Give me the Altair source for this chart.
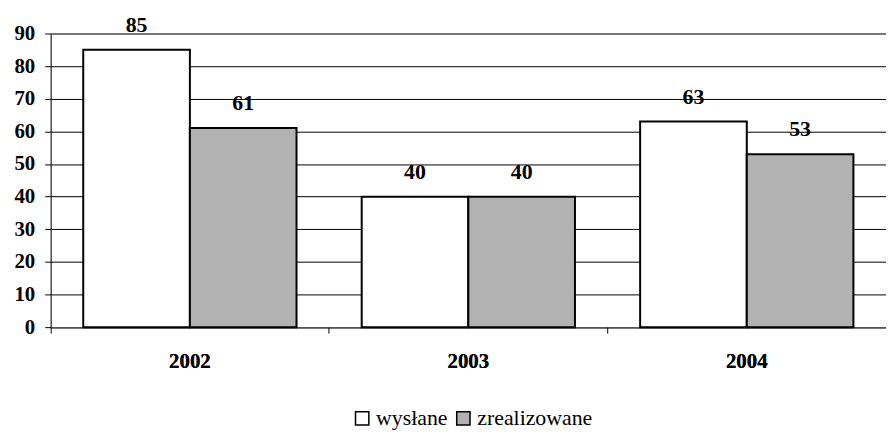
import altair as alt
import pandas as pd

years = ["2002", "2003", "2004"]
series = ["wysłane", "zrealizowane"]
wyslane = [85, 40, 63]
zrealizowane = [61, 40, 53]

rows = []
for i, y in enumerate(years):
    rows.append({"year": y, "series": series[0], "value": wyslane[i]})
    rows.append({"year": y, "series": series[1], "value": zrealizowane[i]})
df = pd.DataFrame(rows)

FONT = "Liberation Serif"

xaxis = alt.Axis(title=None, orient="bottom", ticks=False, domain=True,
                 domainColor="#555555", domainWidth=1.5,
                 labelFont=FONT, labelFontWeight="bold", labelFontSize=21,
                 labelColor="black", labelPadding=24, labelAngle=0)
xenc = alt.X("year:N", sort=years,
             scale=alt.Scale(paddingInner=0, paddingOuter=0), axis=xaxis)
xoff = alt.XOffset("series:N", sort=series,
                   scale=alt.Scale(paddingInner=0, paddingOuter=0.3056))
yaxis = alt.Axis(title=None, values=list(range(0, 91, 10)),
                 grid=True, gridColor="black", gridWidth=1,
                 domain=True, domainColor="black", domainWidth=1,
                 ticks=True, tickSize=6, tickColor="black",
                 labelOverlap=False,
                 labelFont=FONT, labelFontWeight="bold", labelFontSize=21,
                 labelColor="black", labelPadding=10)
yenc = alt.Y("value:Q", scale=alt.Scale(domain=[0, 90], nice=False), axis=yaxis)

bars = alt.Chart(df).mark_bar(stroke="black", strokeWidth=2).encode(
    x=xenc, xOffset=xoff, y=yenc,
    fill=alt.Fill("series:N", sort=series,
                  scale=alt.Scale(domain=series, range=["#ffffff", "#b2b2b2"]),
                  legend=alt.Legend(title=None, orient="none", direction="horizontal",
                                    legendX=303, legendY=377,
                                    symbolType="square", symbolSize=180,
                                    symbolStrokeColor="black", symbolStrokeWidth=1.5,
                                    labelFont=FONT, labelFontSize=22,
                                    labelColor="black", columnPadding=4, labelOffset=3)),
)

labels = alt.Chart(df).mark_text(font=FONT, fontWeight="bold", fontSize=22,
                                 baseline="alphabetic", dy=-18, color="black").encode(
    x=xenc, xOffset=xoff, y=yenc,
    text=alt.Text("value:Q"),
)

ticks = alt.Chart(df).mark_bar(opacity=0).encode(
    x=alt.X("year:N", sort=years,
            axis=alt.Axis(title=None, orient="bottom", labels=False, domain=False,
                          ticks=True, tickSize=6, tickColor="black", bandPosition=0)),
    y=yenc,
)

chart = alt.layer(bars, labels, ticks).resolve_axis(x="independent").properties(
    width=842, height=296,
    autosize=alt.AutoSizeParams(type="none"),
    padding={"left": 43, "top": 24, "right": 0, "bottom": 105},
).configure_view(stroke=None).configure(background="white")

chart.save("out.html", embed_options={"renderer": "svg", "actions": False})
